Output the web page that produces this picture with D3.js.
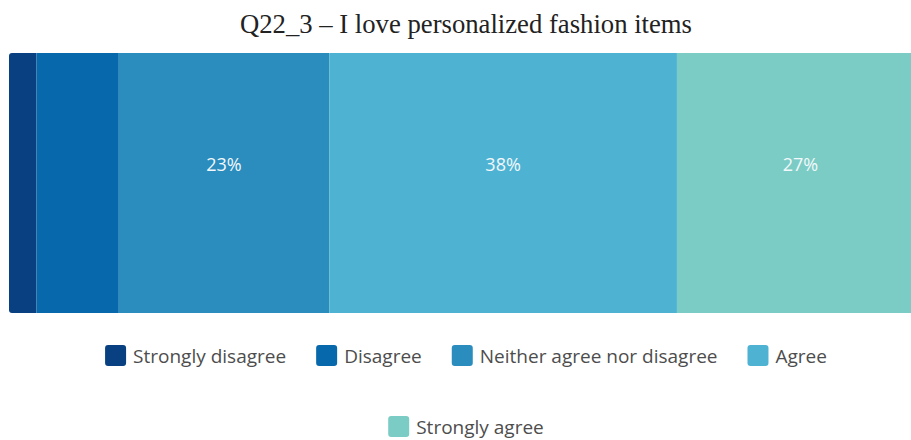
<!DOCTYPE html>
<html>
<head>
<meta charset="utf-8">
<script src="https://cdn.jsdelivr.net/npm/d3@7"></script>
<style>
  html, body { margin: 0; padding: 0; background: #fff; overflow: hidden; }
  svg { display: block; }
</style>
</head>
<body>
<svg id="chart" width="911" height="440"></svg>
<script>
// Response shares for Q22_3 (percent of respondents)
const title = "Q22_3 – I love personalized fashion items";
const categories = ["Strongly disagree", "Disagree", "Neither agree nor disagree", "Agree", "Strongly agree"];
const values = [3, 9, 23, 38, 27];
const colors = ["#084081", "#0868ac", "#2b8cbe", "#4eb3d3", "#7bccc4"];
const labelMin = 10; // segments narrower than this get no value label

const svg = d3.select("#chart");
const centerX = 466;

// Title
svg.append("text")
  .attr("x", centerX)
  .attr("y", 33)
  .attr("text-anchor", "middle")
  .attr("font-family", "'Liberation Serif', 'Times New Roman', serif")
  .attr("font-size", 27)
  .attr("fill", "#222")
  .attr("textLength", 452)
  .attr("lengthAdjust", "spacingAndGlyphs")
  .text(title);

// Stacked segments
let acc = 0;
const segs = values.map((v, i) => {
  const s = { cat: categories[i], value: v, x0: acc, x1: acc + v, color: colors[i] };
  acc += v;
  return s;
});

const x = d3.scaleLinear().domain([0, 100]).range([9, 924]);
const y = d3.scaleBand().domain(["Q22_3"]).range([53, 313]).padding(0);

const defs = svg.append("defs");
defs.append("clipPath").attr("id", "barClip")
  .append("rect")
  .attr("x", x(0)).attr("y", y("Q22_3"))
  .attr("width", x(100) - x(0)).attr("height", y.bandwidth())
  .attr("rx", 3).attr("ry", 3);

const bar = svg.append("g").attr("clip-path", "url(#barClip)");
bar.selectAll("rect")
  .data(segs)
  .join("rect")
  .attr("x", d => x(d.x0))
  .attr("y", y("Q22_3"))
  .attr("width", d => x(d.x1) - x(d.x0))
  .attr("height", y.bandwidth())
  .attr("fill", d => d.color);

svg.append("g").selectAll("text")
  .data(segs.filter(d => d.value >= labelMin))
  .join("text")
  .attr("x", d => (x(d.x0) + x(d.x1)) / 2)
  .attr("y", 171)
  .attr("text-anchor", "middle")
  .attr("font-family", "'Open Sans', 'Noto Sans', sans-serif")
  .attr("font-size", 18)
  .attr("fill", "#f2f8fb")
  .text(d => d.value + "%");

// Legend, wrapped into centred rows
const legendFont = "'Open Sans', 'Noto Sans', sans-serif";
const sw = 21, swGap = 7, itemGap = 30, maxRow = 860;
const rowTops = [345, 416];

const measure = svg.append("text")
  .attr("font-family", legendFont).attr("font-size", 19)
  .attr("visibility", "hidden");
const items = categories.map((c, i) => {
  measure.text(c);
  const w = measure.node().getComputedTextLength();
  return { cat: c, color: colors[i], tw: w, w: sw + swGap + w };
});
measure.remove();

const rows = [];
let cur = [], curW = 0;
items.forEach(it => {
  const add = (cur.length ? itemGap : 0) + it.w;
  if (cur.length && curW + add > maxRow) {
    rows.push({ items: cur, w: curW });
    cur = [it]; curW = it.w;
  } else {
    cur.push(it); curW += add;
  }
});
if (cur.length) rows.push({ items: cur, w: curW });

const legend = svg.append("g");
rows.forEach((row, r) => {
  let lx = centerX - row.w / 2;
  const top = rowTops[r] !== undefined ? rowTops[r] : rowTops[0] + r * 71;
  row.items.forEach(it => {
    const g = legend.append("g").attr("transform", `translate(${lx},${top})`);
    g.append("rect")
      .attr("width", sw).attr("height", sw)
      .attr("rx", 3).attr("ry", 3)
      .attr("fill", it.color);
    g.append("text")
      .attr("x", sw + swGap)
      .attr("y", 18)
      .attr("font-family", legendFont)
      .attr("font-size", 19)
      .attr("fill", "#4d4d4d")
      .text(it.cat);
    lx += it.w + itemGap;
  });
});
</script>
</body>
</html>
